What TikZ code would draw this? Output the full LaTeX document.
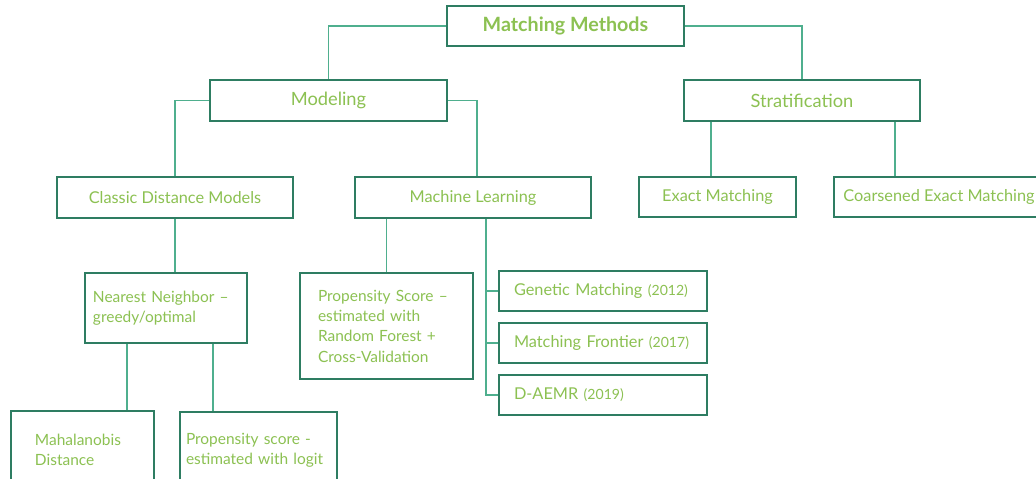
\documentclass[tikz,border=0pt]{standalone}
\usepackage{fontspec}
\setmainfont{Lato}
\usepackage{xcolor}
\usetikzlibrary{positioning,calc}
\definecolor{boxline}{HTML}{2E7D62}
\definecolor{linkline}{HTML}{4FAF8E}
\definecolor{boxtext}{HTML}{8CC152}
\newcommand{\yrtag}[1]{{\fontsize{10}{12}\selectfont(#1)}}

\begin{document}
\begin{tikzpicture}[x=0.25mm,y=-0.25mm,
  box/.style={rectangle,draw=boxline,line width=1.2pt,fill=white,text=boxtext,
    font=\fontsize{11.6}{14.5}\selectfont,inner sep=0pt,minimum height=10mm},
  multi/.style={box,align=left,inner xsep=2mm,font=\fontsize{11}{14.5}\selectfont},
  leaf/.style={box,align=left,text width=44.5mm,inner xsep=3.75mm,minimum width=52mm},
  link/.style={draw=linkline,line width=1.2pt}]
  \useasboundingbox (0,0) rectangle (1036,479);
  \clip (0,0) rectangle (1036,479);
  % top levels
  \node[box,minimum width=59.25mm,font=\fontsize{14}{17}\selectfont\bfseries] (mm) at (565.5,26) {Matching Methods};
  \node[box,minimum width=59.25mm,minimum height=10.25mm,font=\fontsize{13}{16}\selectfont] (mod) at (328.5,100.5) {Modeling};
  \node[box,minimum width=59mm,minimum height=10.25mm,font=\fontsize{13}{16}\selectfont] (strat) at (802,100.5) {Stratification};
  \node[box,minimum width=59mm,minimum height=10.25mm] (cdm) at (175,197.5) {Classic Distance Models};
  \node[box,minimum width=59mm,minimum height=10.25mm] (ml) at (473,197.5) {Machine Learning};
  \node[box,minimum width=39.25mm] (em) at (717.5,197) {Exact Matching};
  \node[box,minimum width=52.5mm] (cem) at (939,197) {Coarsened Exact Matching};
  % lower levels
  \node[multi,text width=36.5mm,minimum height=17.5mm] (nn) at (166,308) {Nearest Neighbor --\\greedy/optimal};
  \node[multi,text width=34.25mm,minimum height=26.5mm,inner xsep=4.5mm] (psrf) at (386.5,326) {Propensity Score --\\estimated with\\Random Forest +\\Cross-Validation};
  \node[leaf] (gen) at (603,291) {Genetic Matching \yrtag{2012}};
  \node[leaf] (mf) at (603,343) {Matching Frontier \yrtag{2017}};
  \node[leaf] (daemr) at (603,395) {D-AEMR \yrtag{2019}};
  \node[multi,text width=23.75mm,minimum height=19.5mm,inner xsep=6mm] (mah) at (82.5,450) {Mahalanobis\\Distance};
  \node[multi,text width=36.25mm,minimum height=19mm,inner xsep=1.5mm] (logit) at (258.5,450) {Propensity score -\\estimated with logit};
  % connectors
  \draw[link] (mm.west) -| (mod.north);
  \draw[link] (mm.east) -| (strat.north);
  \draw[link] (mod.west) -| (cdm.north);
  \draw[link] (mod.east) -| ([xshift=1mm]ml.north);
  \draw[link] ([xshift=7mm]strat.south west) -- ([xshift=7mm]strat.south west |- em.north);
  \draw[link] ([xshift=-6.5mm]strat.south east) -- ([xshift=-6.5mm]strat.south east |- cem.north);
  \draw[link] (cdm.south) -- (cdm.south |- nn.north);
  \draw[link] (psrf.north |- ml.south) -- (psrf.north);
  \coordinate (spine) at ([xshift=33mm]ml.south west);
  \draw[link] (spine) |- (daemr.west);
  \draw[link] (spine |- gen.west) -- (gen.west);
  \draw[link] (spine |- mf.west) -- (mf.west);
  \draw[link] ([xshift=10.75mm]nn.south west) -- ([xshift=10.75mm]nn.south west |- mah.north);
  \draw[link] ([xshift=-8.75mm]nn.south east) -- ([xshift=-8.75mm]nn.south east |- logit.north);
\end{tikzpicture}
\end{document}
